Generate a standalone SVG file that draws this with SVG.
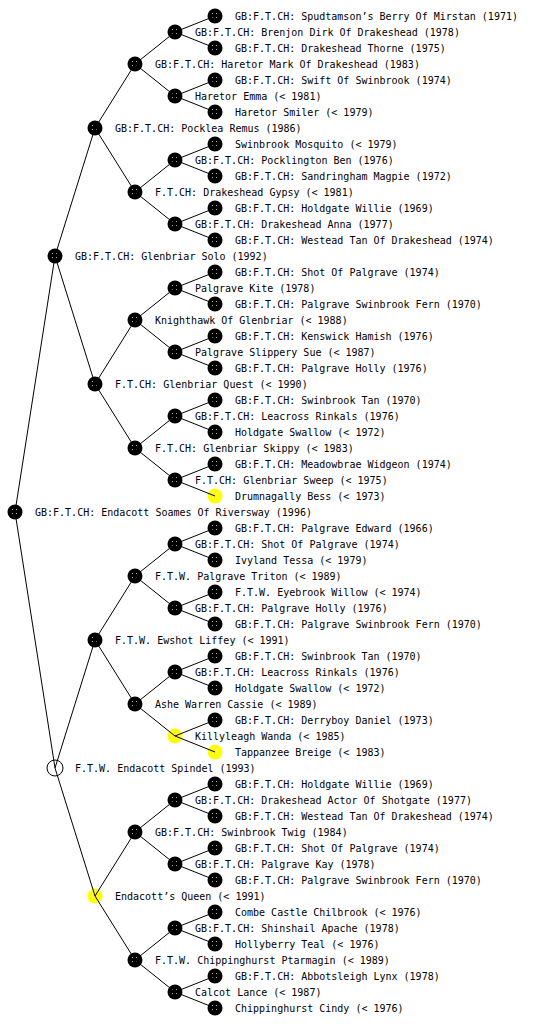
<svg xmlns="http://www.w3.org/2000/svg" xmlns:xlink="http://www.w3.org/1999/xlink" width="560" height="1024" viewBox="0 0 560 1024">
<style>
text{font-family:"DejaVu Sans Mono","Liberation Mono",monospace;font-size:10px;fill:#000}
.c{fill:none;stroke:#000;stroke-width:1}
</style>
<defs>
<pattern id="dots" width="4" height="4" patternUnits="userSpaceOnUse"><rect x="1" y="1" width="1" height="1" fill="#fff" fill-opacity="0.7"/></pattern>
<g id="bk"><circle r="7.5" fill="#000"/><circle r="4.5" fill="url(#dots)"/></g>
<g id="yl"><circle r="7.5" fill="#ff0"/><circle r="4.5" fill="url(#dots)"/></g>
<g id="op"><circle r="8" fill="#fff" stroke="#000" stroke-width="1"/></g>
</defs>
<rect width="560" height="1024" fill="#fff"/>
<g id="n1"><use href="#bk" x="215" y="16"/><text x="235" y="20">GB:F.T.CH: Spudtamson’s Berry Of Mirstan (1971)</text></g>
<g id="n2"><use href="#bk" x="175" y="32"/><text x="195" y="36">GB:F.T.CH: Brenjon Dirk Of Drakeshead (1978)</text></g>
<g id="n3"><use href="#bk" x="215" y="48"/><text x="235" y="52">GB:F.T.CH: Drakeshead Thorne (1975)</text></g>
<g id="n4"><use href="#bk" x="135" y="64"/><text x="155" y="68">GB:F.T.CH: Haretor Mark Of Drakeshead (1983)</text></g>
<g id="n5"><use href="#bk" x="215" y="80"/><text x="235" y="84">GB:F.T.CH: Swift Of Swinbrook (1974)</text></g>
<g id="n6"><use href="#bk" x="175" y="96"/><text x="195" y="100">Haretor Emma (&lt; 1981)</text></g>
<g id="n7"><use href="#bk" x="215" y="112"/><text x="235" y="116">Haretor Smiler (&lt; 1979)</text></g>
<g id="n8"><use href="#bk" x="95" y="128"/><text x="115" y="132">GB:F.T.CH: Pocklea Remus (1986)</text></g>
<g id="n9"><use href="#bk" x="215" y="144"/><text x="235" y="148">Swinbrook Mosquito (&lt; 1979)</text></g>
<g id="n10"><use href="#bk" x="175" y="160"/><text x="195" y="164">GB:F.T.CH: Pocklington Ben (1976)</text></g>
<g id="n11"><use href="#bk" x="215" y="176"/><text x="235" y="180">GB:F.T.CH: Sandringham Magpie (1972)</text></g>
<g id="n12"><use href="#bk" x="135" y="192"/><text x="155" y="196">F.T.CH: Drakeshead Gypsy (&lt; 1981)</text></g>
<g id="n13"><use href="#bk" x="215" y="208"/><text x="235" y="212">GB:F.T.CH: Holdgate Willie (1969)</text></g>
<g id="n14"><use href="#bk" x="175" y="224"/><text x="195" y="228">GB:F.T.CH: Drakeshead Anna (1977)</text></g>
<g id="n15"><use href="#bk" x="215" y="240"/><text x="235" y="244">GB:F.T.CH: Westead Tan Of Drakeshead (1974)</text></g>
<g id="n16"><use href="#bk" x="55" y="256"/><text x="75" y="260">GB:F.T.CH: Glenbriar Solo (1992)</text></g>
<g id="n17"><use href="#bk" x="215" y="272"/><text x="235" y="276">GB:F.T.CH: Shot Of Palgrave (1974)</text></g>
<g id="n18"><use href="#bk" x="175" y="288"/><text x="195" y="292">Palgrave Kite (1978)</text></g>
<g id="n19"><use href="#bk" x="215" y="304"/><text x="235" y="308">GB:F.T.CH: Palgrave Swinbrook Fern (1970)</text></g>
<g id="n20"><use href="#bk" x="135" y="320"/><text x="155" y="324">Knighthawk Of Glenbriar (&lt; 1988)</text></g>
<g id="n21"><use href="#bk" x="215" y="336"/><text x="235" y="340">GB:F.T.CH: Kenswick Hamish (1976)</text></g>
<g id="n22"><use href="#bk" x="175" y="352"/><text x="195" y="356">Palgrave Slippery Sue (&lt; 1987)</text></g>
<g id="n23"><use href="#bk" x="215" y="368"/><text x="235" y="372">GB:F.T.CH: Palgrave Holly (1976)</text></g>
<g id="n24"><use href="#bk" x="95" y="384"/><text x="115" y="388">F.T.CH: Glenbriar Quest (&lt; 1990)</text></g>
<g id="n25"><use href="#bk" x="215" y="400"/><text x="235" y="404">GB:F.T.CH: Swinbrook Tan (1970)</text></g>
<g id="n26"><use href="#bk" x="175" y="416"/><text x="195" y="420">GB:F.T.CH: Leacross Rinkals (1976)</text></g>
<g id="n27"><use href="#bk" x="215" y="432"/><text x="235" y="436">Holdgate Swallow (&lt; 1972)</text></g>
<g id="n28"><use href="#bk" x="135" y="448"/><text x="155" y="452">F.T.CH: Glenbriar Skippy (&lt; 1983)</text></g>
<g id="n29"><use href="#bk" x="215" y="464"/><text x="235" y="468">GB:F.T.CH: Meadowbrae Widgeon (1974)</text></g>
<g id="n30"><use href="#bk" x="175" y="480"/><text x="195" y="484">F.T.CH: Glenbriar Sweep (&lt; 1975)</text></g>
<g id="n31"><use href="#yl" x="215" y="496"/><text x="235" y="500">Drumnagally Bess (&lt; 1973)</text></g>
<g id="n32"><use href="#bk" x="15" y="512"/><text x="35" y="516">GB:F.T.CH: Endacott Soames Of Riversway (1996)</text></g>
<g id="n33"><use href="#bk" x="215" y="528"/><text x="235" y="532">GB:F.T.CH: Palgrave Edward (1966)</text></g>
<g id="n34"><use href="#bk" x="175" y="544"/><text x="195" y="548">GB:F.T.CH: Shot Of Palgrave (1974)</text></g>
<g id="n35"><use href="#bk" x="215" y="560"/><text x="235" y="564">Ivyland Tessa (&lt; 1979)</text></g>
<g id="n36"><use href="#bk" x="135" y="576"/><text x="155" y="580">F.T.W. Palgrave Triton (&lt; 1989)</text></g>
<g id="n37"><use href="#bk" x="215" y="592"/><text x="235" y="596">F.T.W. Eyebrook Willow (&lt; 1974)</text></g>
<g id="n38"><use href="#bk" x="175" y="608"/><text x="195" y="612">GB:F.T.CH: Palgrave Holly (1976)</text></g>
<g id="n39"><use href="#bk" x="215" y="624"/><text x="235" y="628">GB:F.T.CH: Palgrave Swinbrook Fern (1970)</text></g>
<g id="n40"><use href="#bk" x="95" y="640"/><text x="115" y="644">F.T.W. Ewshot Liffey (&lt; 1991)</text></g>
<g id="n41"><use href="#bk" x="215" y="656"/><text x="235" y="660">GB:F.T.CH: Swinbrook Tan (1970)</text></g>
<g id="n42"><use href="#bk" x="175" y="672"/><text x="195" y="676">GB:F.T.CH: Leacross Rinkals (1976)</text></g>
<g id="n43"><use href="#bk" x="215" y="688"/><text x="235" y="692">Holdgate Swallow (&lt; 1972)</text></g>
<g id="n44"><use href="#bk" x="135" y="704"/><text x="155" y="708">Ashe Warren Cassie (&lt; 1989)</text></g>
<g id="n45"><use href="#bk" x="215" y="720"/><text x="235" y="724">GB:F.T.CH: Derryboy Daniel (1973)</text></g>
<g id="n46"><use href="#yl" x="175" y="736"/><text x="195" y="740">Killyleagh Wanda (&lt; 1985)</text></g>
<g id="n47"><use href="#yl" x="215" y="752"/><text x="235" y="756">Tappanzee Breige (&lt; 1983)</text></g>
<g id="n48"><use href="#op" x="55" y="768"/><text x="75" y="772">F.T.W. Endacott Spindel (1993)</text></g>
<g id="n49"><use href="#bk" x="215" y="784"/><text x="235" y="788">GB:F.T.CH: Holdgate Willie (1969)</text></g>
<g id="n50"><use href="#bk" x="175" y="800"/><text x="195" y="804">GB:F.T.CH: Drakeshead Actor Of Shotgate (1977)</text></g>
<g id="n51"><use href="#bk" x="215" y="816"/><text x="235" y="820">GB:F.T.CH: Westead Tan Of Drakeshead (1974)</text></g>
<g id="n52"><use href="#bk" x="135" y="832"/><text x="155" y="836">GB:F.T.CH: Swinbrook Twig (1984)</text></g>
<g id="n53"><use href="#bk" x="215" y="848"/><text x="235" y="852">GB:F.T.CH: Shot Of Palgrave (1974)</text></g>
<g id="n54"><use href="#bk" x="175" y="864"/><text x="195" y="868">GB:F.T.CH: Palgrave Kay (1978)</text></g>
<g id="n55"><use href="#bk" x="215" y="880"/><text x="235" y="884">GB:F.T.CH: Palgrave Swinbrook Fern (1970)</text></g>
<g id="n56"><use href="#yl" x="95" y="896"/><text x="115" y="900">Endacott’s Queen (&lt; 1991)</text></g>
<g id="n57"><use href="#bk" x="215" y="912"/><text x="235" y="916">Combe Castle Chilbrook (&lt; 1976)</text></g>
<g id="n58"><use href="#bk" x="175" y="928"/><text x="195" y="932">GB:F.T.CH: Shinshail Apache (1978)</text></g>
<g id="n59"><use href="#bk" x="215" y="944"/><text x="235" y="948">Hollyberry Teal (&lt; 1976)</text></g>
<g id="n60"><use href="#bk" x="135" y="960"/><text x="155" y="964">F.T.W. Chippinghurst Ptarmagin (&lt; 1989)</text></g>
<g id="n61"><use href="#bk" x="215" y="976"/><text x="235" y="980">GB:F.T.CH: Abbotsleigh Lynx (1978)</text></g>
<g id="n62"><use href="#bk" x="175" y="992"/><text x="195" y="996">Calcot Lance (&lt; 1987)</text></g>
<g id="n63"><use href="#bk" x="215" y="1008"/><text x="235" y="1012">Chippinghurst Cindy (&lt; 1976)</text></g>
<g id="connectors">
<path class="c" d="M15 512L55 256M15 512L55 768
M55 256L95 128M55 256L95 384M55 768L95 640M55 768L95 896
M95 128L135 64M95 128L135 192M95 384L135 320M95 384L135 448
M95 640L135 576M95 640L135 704M95 896L135 832M95 896L135 960
M135 64L175 32M135 64L175 96M135 192L175 160M135 192L175 224
M135 320L175 288M135 320L175 352M135 448L175 416M135 448L175 480
M135 576L175 544M135 576L175 608M135 704L175 672M135 704L175 736
M135 832L175 800M135 832L175 864M135 960L175 928M135 960L175 992
M175 32L215 16M175 32L215 48M175 96L215 80M175 96L215 112
M175 160L215 144M175 160L215 176M175 224L215 208M175 224L215 240
M175 288L215 272M175 288L215 304M175 352L215 336M175 352L215 368
M175 416L215 400M175 416L215 432M175 480L215 464M175 480L215 496
M175 544L215 528M175 544L215 560M175 608L215 592M175 608L215 624
M175 672L215 656M175 672L215 688M175 736L215 720M175 736L215 752
M175 800L215 784M175 800L215 816M175 864L215 848M175 864L215 880
M175 928L215 912M175 928L215 944M175 992L215 976M175 992L215 1008"/>
</g>
</svg>
